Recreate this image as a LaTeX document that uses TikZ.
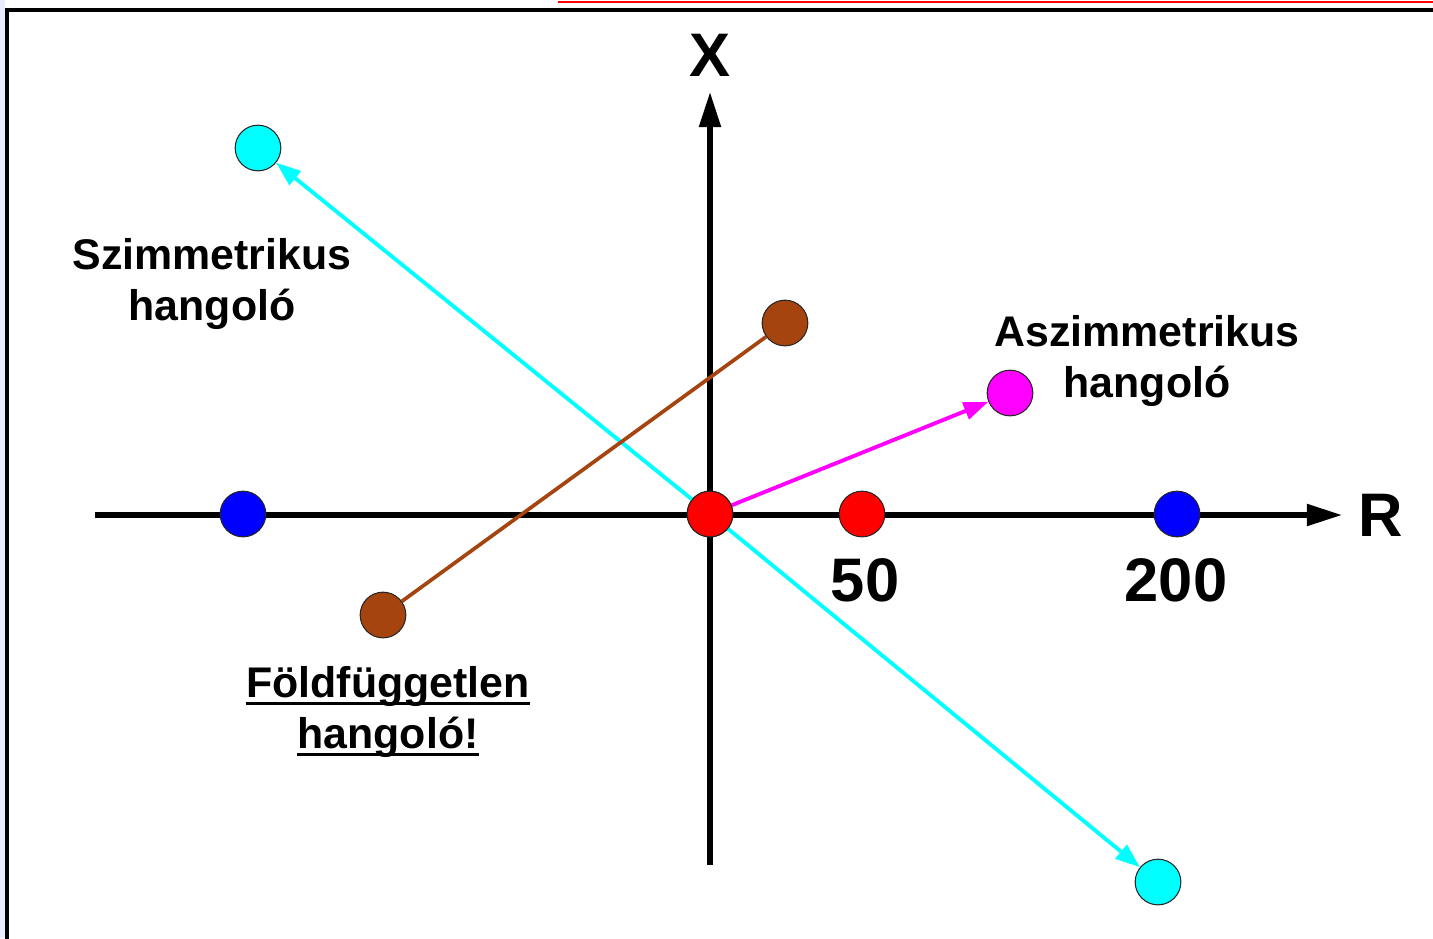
\documentclass[tikz,border=0pt]{standalone}
\usepackage{fontspec}
\setmainfont{Liberation Sans}
\usetikzlibrary{arrows.meta}
\definecolor{tuncyan}{RGB}{0,255,255}
\definecolor{tunmagenta}{RGB}{255,0,255}
\definecolor{tunbrown}{RGB}{165,68,15}
\definecolor{tunred}{RGB}{255,0,0}
\definecolor{tunblue}{RGB}{0,0,255}

\begin{document}
\begin{tikzpicture}[x=0.02cm,y=-0.02cm,>={Triangle[length=14pt,width=10pt]},
  dot/.style={circle, draw=black!85, line width=0.6pt, inner sep=0pt, minimum size=26pt},
  lbl/.style={font=\fontsize{24.4}{28.5}\selectfont\bfseries, align=center},
  big/.style={font=\fontsize{35}{40}\selectfont\bfseries},
  axis/.style={line width=2.9pt, -{Triangle[length=20pt,width=12pt]}},
  uline/.style={line width=1.6pt}]
\useasboundingbox (0,0) rectangle (1433,938);
% frame of the slide
\fill[blue!8] (0,0) rectangle (5,938);
\draw[red, line width=1.2pt] (558,2) -- (1433,2);
\draw[line width=1.8pt] (7,10) rectangle (1460,960);
% axes
\coordinate (xs) at (95,515);
\coordinate (xe) at (1342,515);
\coordinate (ys) at (710,865);
\coordinate (ye) at (710,92);
\draw[axis] (xs) -- (xe);
\draw[axis] (ys) -- (ye);
\node[big] (rlbl) at (1381,515) {R};
\node[big] (xlbl) at (710,55) {X};
% points
\node[dot, fill=tunred] (o) at (710,514) {};
\node[dot, fill=tunred] (r50) at (862,514) {};
\node[dot, fill=tunblue] (b1) at (243,514) {};
\node[dot, fill=tunblue] (b2) at (1177,514) {};
\node[dot, fill=tuncyan] (c1) at (258,148) {};
\node[dot, fill=tuncyan] (c2) at (1158,882) {};
\node[dot, fill=tunbrown] (f1) at (785,323) {};
\node[dot, fill=tunbrown] (f2) at (383,615) {};
\node[dot, fill=tunmagenta] (m) at (1010,393) {};
% connectors
\draw[tuncyan, line width=2.2pt, ->] (o) -- (c1);
\draw[tuncyan, line width=2.2pt, ->] (o) -- (c2);
\draw[tunbrown, line width=2.1pt] (f2) -- (f1);
\draw[tunmagenta, line width=2.2pt, ->] (o) -- (m);
\node[dot, fill=tunred] at (o) {};
% labels
\node[big] (l50) at (865,580) {50};
\node[big] (l200) at (1176,580) {200};
\node[lbl] (szim) at (212,284) {Szimmetrikus\\hangoló};
\node[lbl] (aszim) at (1147,361) {Aszimmetrikus\\hangoló};
\node[lbl, anchor=base, inner sep=0pt] (fold1) at (388,697) {Földfüggetlen};
\node[lbl, anchor=base, inner sep=0pt] (fold2) at (388,748) {hangoló!};
\draw[uline] ([yshift=-3.5pt]fold1.base west) -- ([yshift=-3.5pt]fold1.base east);
\draw[uline] ([yshift=-3.5pt]fold2.base west) -- ([yshift=-3.5pt]fold2.base east);
\end{tikzpicture}
\end{document}
